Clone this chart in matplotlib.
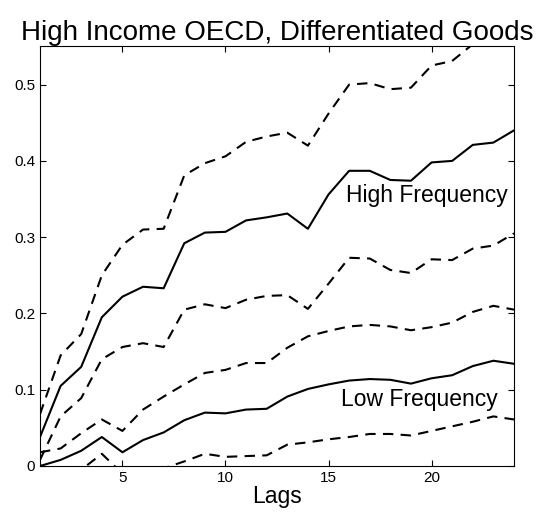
import numpy as np
import matplotlib
matplotlib.use('Agg')
import matplotlib.pyplot as plt

plt.rcParams['font.family'] = ['Liberation Sans', 'DejaVu Sans']

# data
lags = np.arange(1, 25)

high_mid = [0.038, 0.105, 0.130, 0.195, 0.222, 0.235, 0.233, 0.292, 0.306, 0.307,
            0.322, 0.326, 0.331, 0.311, 0.356, 0.387, 0.387, 0.375, 0.374, 0.398,
            0.400, 0.421, 0.424, 0.440]
high_up = [0.068, 0.145, 0.173, 0.250, 0.290, 0.310, 0.311, 0.381, 0.397, 0.406,
           0.425, 0.432, 0.437, 0.420, 0.462, 0.500, 0.502, 0.494, 0.496, 0.525,
           0.531, 0.553, 0.580, 0.600]
high_lo = [0.008, 0.065, 0.089, 0.140, 0.156, 0.161, 0.156, 0.205, 0.212, 0.207,
           0.218, 0.223, 0.224, 0.206, 0.239, 0.273, 0.272, 0.257, 0.253, 0.271,
           0.270, 0.285, 0.289, 0.305]

low_mid = [0.000, 0.008, 0.020, 0.038, 0.018, 0.034, 0.044, 0.060, 0.070, 0.069,
           0.074, 0.075, 0.091, 0.101, 0.107, 0.112, 0.114, 0.113, 0.108, 0.115,
           0.119, 0.131, 0.138, 0.134]
low_up = [0.018, 0.023, 0.043, 0.061, 0.046, 0.074, 0.091, 0.107, 0.122, 0.126,
          0.135, 0.135, 0.155, 0.170, 0.177, 0.183, 0.185, 0.183, 0.178, 0.182,
          0.188, 0.202, 0.210, 0.205]
low_lo = [-0.030, -0.020, -0.005, 0.016, -0.010, -0.020, -0.003, 0.006, 0.016, 0.012,
          0.013, 0.014, 0.028, 0.031, 0.035, 0.038, 0.042, 0.042, 0.040, 0.046,
          0.052, 0.058, 0.065, 0.061]

fig = plt.figure(figsize=(5.45, 5.16), dpi=100)
ax = fig.add_axes([0.0734, 0.0969, 0.8697, 0.8145])

lw = 1.5
dash = (0, (5, 3.5))
ax.plot(lags, high_mid, color='k', lw=lw)
ax.plot(lags, high_up, color='k', lw=lw, linestyle=dash)
ax.plot(lags, high_lo, color='k', lw=lw, linestyle=dash)
ax.plot(lags, low_mid, color='k', lw=lw)
ax.plot(lags, low_up, color='k', lw=lw, linestyle=dash)
ax.plot(lags, low_lo, color='k', lw=lw, linestyle=dash)

ax.text(15.85, 0.354, 'High Frequency', fontsize=16.5, va='center', ha='left')
ax.text(15.6, 0.087, 'Low Frequency', fontsize=16.5, va='center', ha='left')

ax.set_xlim(1, 24)
ax.set_ylim(0, 0.551)
ax.set_xticks([5, 10, 15, 20])
ax.set_yticks([0, 0.1, 0.2, 0.3, 0.4, 0.5])
ax.set_yticklabels(['0', '0.1', '0.2', '0.3', '0.4', '0.5'])
ax.tick_params(direction='in', top=True, right=True, labelsize=11, length=4, width=0.8)
for s in ax.spines.values():
    s.set_linewidth(0.8)

ax.set_xlabel('Lags', fontsize=16.5, labelpad=0)
ax.set_title('High Income OECD, Differentiated Goods', fontsize=20, pad=4)

fig.savefig('out.png', dpi=100)
